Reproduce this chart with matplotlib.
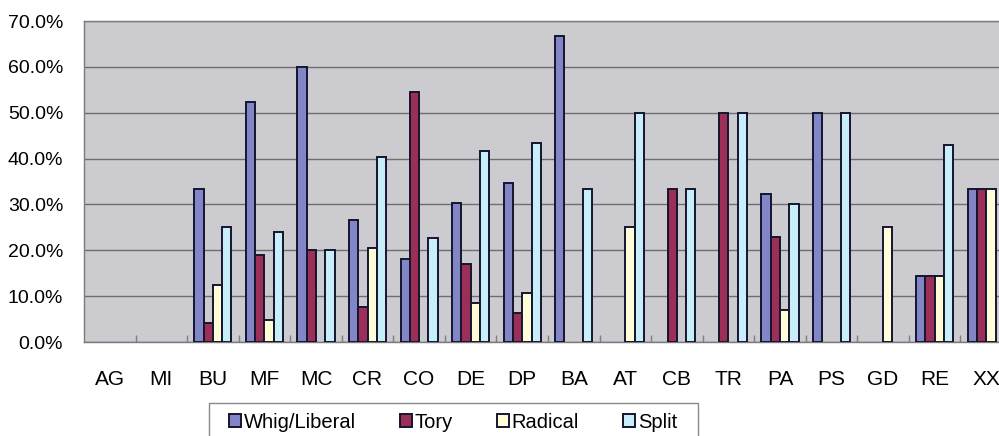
import numpy as np
import matplotlib
matplotlib.use("Agg")
import matplotlib.pyplot as plt
from matplotlib.patches import Rectangle

plt.rcParams["font.family"] = ["Liberation Sans", "DejaVu Sans"]

CATEGORIES = ["AG", "MI", "BU", "MF", "MC", "CR", "CO", "DE", "DP",
              "BA", "AT", "CB", "TR", "PA", "PS", "GD", "RE", "XX"]

WHIG    = [0, 0, 33.3, 52.4, 60.0, 26.7, 18.2, 30.4, 34.6,
           66.7, 0, 0, 0, 32.3, 50.0, 0, 14.3, 33.3]
TORY    = [0, 0, 4.2, 19.0, 20.0, 7.6, 54.5, 17.0, 6.3,
           0, 0, 33.3, 50.0, 23.0, 0, 0, 14.3, 33.3]
RADICAL = [0, 0, 12.5, 4.8, 0, 20.4, 0, 8.5, 10.6,
           0, 25.0, 0, 0, 7.0, 0, 25.0, 14.3, 33.3]
SPLIT   = [0, 0, 25.0, 24.0, 20.0, 40.4, 22.7, 41.6, 43.3,
           33.3, 50.0, 33.3, 50.0, 30.1, 50.0, 0, 42.9, 0]

SERIES = [
    ("Whig/Liberal", WHIG, "#8285c6"),
    ("Tory", TORY, "#9b2f57"),
    ("Radical", RADICAL, "#fffcd8"),
    ("Split", SPLIT, "#c8eef9"),
]

W, H = 999, 436
fig = plt.figure(figsize=(W / 100, H / 100), dpi=100)
# plot area runs past the right edge of the picture, as in the scan
ax = fig.add_axes([84 / W, (H - 342) / H, (1012 - 84) / W, (342 - 21) / H])
ax.set_facecolor("#cbcbd0")

x = np.arange(len(CATEGORIES))
bw = 0.18
offsets = [-1.5 * bw, -0.5 * bw, 0.5 * bw, 1.5 * bw]
for (name, vals, col), off in zip(SERIES, offsets):
    vals = np.asarray(vals, dtype=float)
    keep = vals > 0          # empty cells draw nothing in the original
    ax.bar(x[keep] + off, vals[keep], width=bw, color=col,
           edgecolor="#151530", linewidth=1.4, label=name, zorder=3)

ax.set_xlim(-0.5, len(CATEGORIES) - 0.5)
ax.set_ylim(0, 70)
ax.set_yticks(np.arange(0, 71, 10))
ax.set_yticklabels([f"{v:.1f}%" for v in range(0, 71, 10)], fontsize=14)
ax.yaxis.grid(True, color="#6e6e72", linewidth=1.0, zorder=1)
ax.tick_params(axis="y", length=0, pad=15)

ax.set_xticks(x)
ax.set_xticklabels(CATEGORIES, fontsize=15)
ax.tick_params(axis="x", which="major", length=0, pad=20)
ax.set_xticks(np.arange(0.5, len(CATEGORIES) - 0.5, 1), minor=True)
ax.tick_params(axis="x", which="minor", direction="in", length=5,
               color="#808080", width=1)

for s in ["top", "left", "bottom"]:
    ax.spines[s].set_color("#7a7a7e")
    ax.spines[s].set_linewidth(1.0)
ax.spines["right"].set_visible(False)

# legend box is cut by the bottom edge of the scan
fig.patches.append(Rectangle((209 / W, -0.05), (698 - 209) / W,
                             (H - 403) / H + 0.05, transform=fig.transFigure,
                             facecolor="white", edgecolor="#8a8a8a",
                             linewidth=1.0, zorder=0))
fig.legend(loc="center left", bbox_to_anchor=(229 / W, (H - 422) / H),
           ncol=4, fontsize=14.5, frameon=False, borderaxespad=0,
           borderpad=0, handlelength=0.6, handleheight=0.6,
           handletextpad=0.12, columnspacing=2.2)

fig.savefig("out.png", dpi=100, facecolor="white")
